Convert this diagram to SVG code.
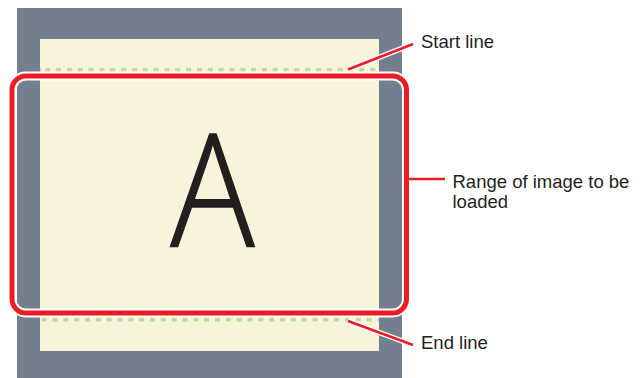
<svg xmlns="http://www.w3.org/2000/svg" width="643" height="378" viewBox="0 0 643 378">
<style>
.lbl{font-family:"Liberation Sans",Arial,sans-serif;font-size:18.5px;fill:#231f20}
.dash{stroke:#bfdc9c;stroke-width:4;stroke-dasharray:5 5.83;fill:none}
.halo{stroke:#ffffff;fill:none}
.red{stroke:#ed1c24;fill:none}
</style>
<g id="frame">
<rect x="17" y="8" width="385" height="370" fill="#737f8f"/>
<rect x="40" y="39" width="339" height="312" fill="#f8f4dc"/>
</g>
<g id="letter">
<text x="212.5" y="247.5" text-anchor="middle" transform="translate(212.5 0) scale(0.89 1) translate(-212.5 0)" style="font-family:'Open Sans','Liberation Sans',sans-serif;font-weight:300;font-size:157px;fill:#231f20;stroke:#231f20;stroke-width:1.6">A</text>
</g>
<g id="start-line">
<line x1="40" y1="70" x2="41.5" y2="70" class="dash" stroke-dasharray="none"/>
<line x1="45.3" y1="70" x2="379" y2="70" class="dash"/>
</g>
<g id="end-line">
<line x1="41.7" y1="319.5" x2="379" y2="319.5" class="dash"/>
</g>
<g id="range">
<rect x="12" y="76" width="394.5" height="237" rx="14" class="halo" stroke-width="9"/>
<rect x="12" y="76" width="394.5" height="237" rx="14" class="red" stroke-width="5"/>
</g>
<g id="connectors">
<line x1="348" y1="69.5" x2="413" y2="44" class="halo" stroke-width="5.5"/>
<line x1="348" y1="69.5" x2="413" y2="44" class="red" stroke-width="2.5"/>
<line x1="348" y1="321" x2="413" y2="345" class="halo" stroke-width="5.5"/>
<line x1="348" y1="321" x2="413" y2="345" class="red" stroke-width="2.5"/>
<line x1="408" y1="179" x2="445" y2="179" class="red" stroke-width="2.5"/>
</g>
<g id="labels">
<text x="421" y="48" class="lbl">Start line</text>
<text x="452.5" y="188" class="lbl">Range of image to be</text>
<text x="452.5" y="208" class="lbl">loaded</text>
<text x="421" y="349" class="lbl">End line</text>
</g>
</svg>
